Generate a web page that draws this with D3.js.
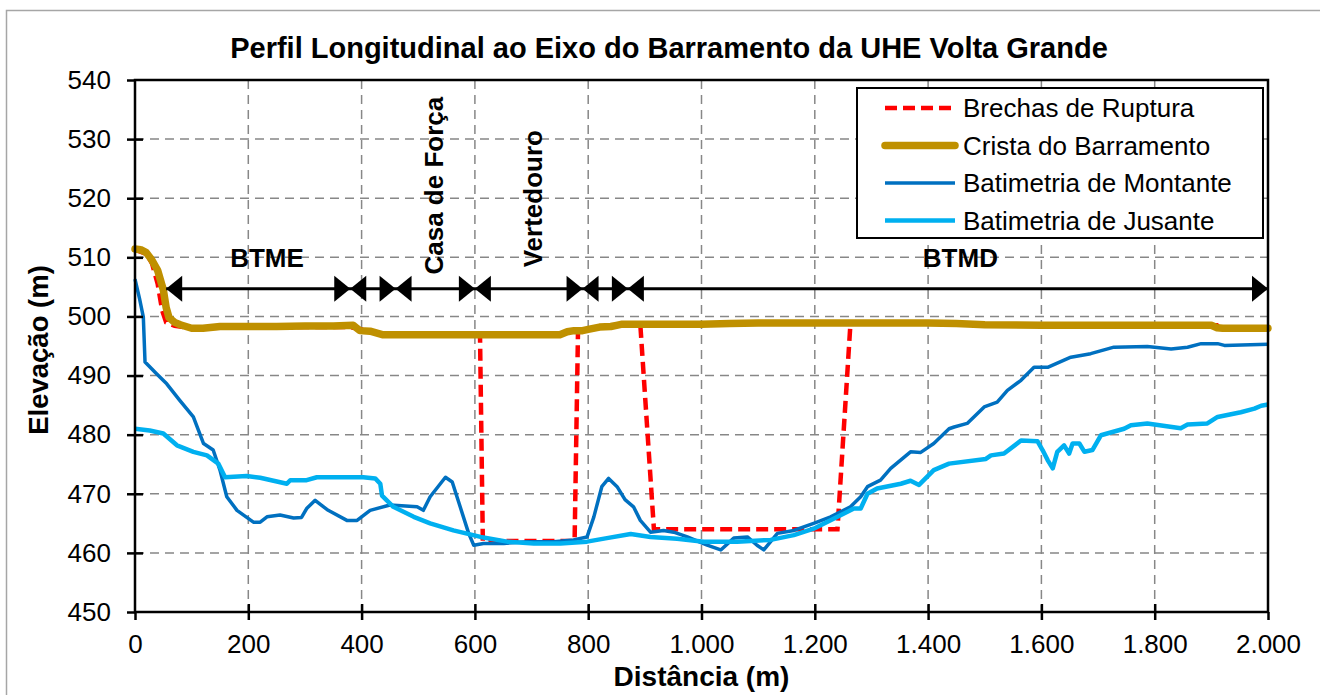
<!DOCTYPE html>
<html><head><meta charset="utf-8">
<script src="https://cdn.jsdelivr.net/npm/d3@7"></script>
<style>body{margin:0;background:#fff} text{font-family:"Liberation Sans",Arial,sans-serif}</style>
</head><body><svg id="c" width="1320" height="695"></svg>
<script>
// ---- data ----
const xTicks = [0,200,400,600,800,1000,1200,1400,1600,1800,2000];
const yTicks = [450,460,470,480,490,500,510,520,530,540];

const brechaDist = [0,20,30,40,48,55,70,100,200,380,440,609,614,776,782,800,850,892,916,1240,1263,1400,1500,1910,1915,2000];
const brechaElev = [511.3,510.6,509,505.5,501,499,498.4,498,498.2,498.2,497,497,462.0,462.0,497.5,497.8,498.5,498.6,464,464,498.9,498.9,498.5,498.5,498,498];

const cristaDist = [0,10,20,30,40,50,55,60,70,80,100,120,150,200,250,300,350,385,397,415,438,450,600,700,750,763,775,790,800,820,840,850,860,900,1000,1050,1100,1200,1300,1400,1450,1500,1600,1700,1800,1900,1910,1920,2000];
const cristaElev = [511.4,511.3,510.8,509.5,507.8,504.5,501.5,499.8,499,498.6,498,498,498.3,498.3,498.3,498.4,498.4,498.5,497.6,497.5,496.9,496.9,496.9,496.9,496.9,497.4,497.6,497.6,497.8,498.2,498.3,498.5,498.7,498.7,498.7,498.8,498.9,498.9,498.9,498.9,498.8,498.6,498.5,498.5,498.5,498.5,498.1,498,498];

const montanteDist = [0,8,14.7,17.7,38,56,79,103,121,138,150,162,180,209,221,233,256,280,294,303,318,330,341,374,392,415,450,498,509,521,539,548,560,574,589,598,615,651,692,739,774,798,810,824,836,851,865,880,892,910,933,951,975,1010,1034,1057,1081,1098,1110,1134,1163,1198,1228,1263,1281,1293,1316,1334,1369,1387,1410,1437,1446,1469,1499,1522,1540,1564,1587,1611,1652,1687,1728,1787,1829,1858,1882,1911,1923,2000];
const montanteElev = [506.3,503,499.9,492.3,490.3,488.6,485.8,483,478.5,477.4,474,469.5,467.2,465.2,465.2,466.1,466.4,465.9,466,467.5,468.9,468,467.2,465.5,465.5,467.2,468.1,467.8,467.2,469.5,471.7,472.8,472,467.8,463.3,461.3,461.6,461.6,461.9,461.9,462.2,462.7,466.1,471.2,472.6,471.2,469,467.8,465.5,463.5,463.8,463.5,462.7,461.3,460.5,462.5,462.7,461.3,460.5,463.3,463.8,465,466.1,467.8,469.5,471.2,472.3,474.3,477.1,477,478.5,481,481.3,481.9,484.7,485.5,487.5,489.2,491.4,491.4,493.1,493.7,494.8,494.9,494.5,494.8,495.4,495.4,495.1,495.3];

const jusanteDist = [0,26,50,74,103,127,147,159,197,221,268,274,303,321,345,403,424,433,436,456,492,521,562,610,657,704,751,798,833,875,910,957,1004,1063,1122,1163,1198,1234,1269,1281,1293,1310,1352,1369,1384,1410,1437,1502,1511,1534,1564,1593,1602,1611,1620,1628,1640,1649,1655,1667,1676,1690,1705,1746,1758,1787,1846,1858,1893,1911,1952,1976,1988,2000];
const jusanteElev = [481,480.7,480.2,478.2,477.1,476.5,475.1,472.8,473,472.7,471.7,472.3,472.3,472.8,472.8,472.8,472.6,471.7,469.7,467.8,466.1,465,463.8,462.7,461.9,461.6,461.6,461.9,462.5,463.2,462.7,462.4,461.9,461.9,462.2,463,464.1,465.8,467.5,467.5,470,470.9,471.7,472.2,471.5,474,475.1,475.9,476.5,476.8,479,478.9,477.4,475.7,474.3,477.1,478.2,476.8,478.5,478.5,477.1,477.4,479.9,481,481.6,481.9,481.1,481.7,481.9,483,483.8,484.4,484.9,485.1];

const trechoLimites = [55,380,460,600,790,870,2000];
const trechoNivel = 504.7;
const rotulosH = [{t:"BTME", x:233}, {t:"BTMD", x:1457}];
const rotulosV = [{t:"Casa de Força", x:527, off:103}, {t:"Vertedouro", x:702.5, off:90}];

const seriesNames = ["Brechas de Ruptura","Crista do Barramento","Batimetria de Montante","Batimetria de Jusante"];

// ---- chart ----
const svg = d3.select("#c");
const L=135, R=1268, T=80, B=612;
const x = d3.scaleLinear([0,2000],[L,R]);
const y = d3.scaleLinear([450,540],[B,T]);
const loc = d3.formatLocale({decimal:",", thousands:".", grouping:[3], currency:["R$",""]});
const fmt = loc.format(",");

// outer border
svg.append("path").attr("d","M6.5,700 V10.5 H1330").attr("fill","none").attr("stroke","#a6a6a6").attr("stroke-width",1.5);

// grid
const g = svg.append("g");
g.selectAll(".gx").data(xTicks.slice(1,-1)).join("line")
  .attr("x1",d=>x(d)).attr("x2",d=>x(d)).attr("y1",T).attr("y2",B)
  .attr("stroke","#878787").attr("stroke-width",1.5).attr("stroke-dasharray","9,6");
g.selectAll(".gy").data(yTicks.slice(1,-1)).join("line")
  .attr("y1",d=>y(d)).attr("y2",d=>y(d)).attr("x1",L).attr("x2",R)
  .attr("stroke","#878787").attr("stroke-width",1.5).attr("stroke-dasharray","9,6");

// series
const mk = (dx,dy)=>dx.map((d,i)=>[d,dy[i]]);
const line = d3.line().x(d=>x(d[0])).y(d=>y(d[1]));
svg.append("path").datum(mk(brechaDist,brechaElev)).attr("d",line).attr("fill","none")
  .attr("stroke","#ff0000").attr("stroke-width",4.5).attr("stroke-dasharray","12,6");
svg.append("path").datum(mk(cristaDist,cristaElev)).attr("d",line).attr("fill","none")
  .attr("stroke","#bf9000").attr("stroke-width",7.5).attr("stroke-linejoin","round").attr("stroke-linecap","round");
svg.append("path").datum(mk(montanteDist,montanteElev)).attr("d",line).attr("fill","none")
  .attr("stroke","#0070c0").attr("stroke-width",3.5).attr("stroke-linejoin","round");
svg.append("path").datum(mk(jusanteDist,jusanteElev)).attr("d",line).attr("fill","none")
  .attr("stroke","#00b0f0").attr("stroke-width",4.5).attr("stroke-linejoin","round");

// plot frame
svg.append("rect").attr("x",L).attr("y",T).attr("width",R-L).attr("height",B-T)
  .attr("fill","none").attr("stroke","#000").attr("stroke-width",2.5);

// axes
svg.append("g").attr("transform",`translate(0,${B})`)
  .call(d3.axisBottom(x).tickValues(xTicks).tickSize(8).tickPadding(15).tickFormat(fmt));
svg.append("g").attr("transform",`translate(0,${B})`)
  .call(d3.axisBottom(x).tickValues(xTicks.slice(1,-1)).tickSize(-8).tickFormat(""));
svg.append("g").attr("transform",`translate(${L},0)`)
  .call(d3.axisLeft(y).tickValues(yTicks).tickSize(8).tickPadding(16));
svg.append("g").attr("transform",`translate(${L},0)`)
  .call(d3.axisLeft(y).tickValues(yTicks.slice(1,-1)).tickSize(-8).tickFormat(""));
svg.selectAll(".domain").remove();
svg.selectAll(".tick line").attr("stroke","#000").attr("stroke-width",2.5);
svg.selectAll(".tick text").attr("font-size",26).attr("fill","#000").attr("font-family","Liberation Sans, Arial, sans-serif");

// section arrows
const ya = y(trechoNivel);
svg.append("line").attr("x1",x(trechoLimites[0])).attr("x2",x(trechoLimites[trechoLimites.length-1]))
  .attr("y1",ya).attr("y2",ya).attr("stroke","#000").attr("stroke-width",3);
const aw=16, ah=13;
trechoLimites.forEach((b,i)=>{
  const xb = x(b);
  if(i>0) svg.append("path").attr("d",`M${xb},${ya} L${xb-aw},${ya-ah} L${xb-aw},${ya+ah} Z`).attr("fill","#000");
  if(i<trechoLimites.length-1) svg.append("path").attr("d",`M${xb},${ya} L${xb+aw},${ya-ah} L${xb+aw},${ya+ah} Z`).attr("fill","#000");
});
svg.selectAll(".rh").data(rotulosH).join("text")
  .attr("x",d=>x(d.x)).attr("y",ya-22).attr("text-anchor","middle")
  .attr("font-size",26).attr("font-weight","bold").text(d=>d.t);
svg.selectAll(".rv").data(rotulosV).join("text")
  .attr("transform",d=>`translate(${x(d.x)},${ya-d.off}) rotate(-90)`)
  .attr("text-anchor","middle").attr("dy","0.35em")
  .attr("font-size",26).attr("font-weight","bold").text(d=>d.t);

// titles
svg.append("text").attr("x",669).attr("y",58).attr("text-anchor","middle")
  .attr("font-size",29).attr("font-weight","bold").text("Perfil Longitudinal ao Eixo do Barramento da UHE Volta Grande");
svg.append("text").attr("x",(L+R)/2).attr("y",686).attr("text-anchor","middle")
  .attr("font-size",28).attr("font-weight","bold").text("Distância (m)");
svg.append("text").attr("transform",`translate(48,${(T+B)/2 + 4}) rotate(-90)`).attr("text-anchor","middle")
  .attr("font-size",27.5).attr("font-weight","bold").text("Elevação (m)");

// legend
const lg = svg.append("g");
lg.append("rect").attr("x",857).attr("y",88).attr("width",406).attr("height",150)
  .attr("fill","#fff").attr("stroke","#000").attr("stroke-width",2);
const lstyle = [
  {c:"#ff0000", w:4.5, dash:"12,6"},
  {c:"#bf9000", w:7.5, dash:null},
  {c:"#0070c0", w:3.5, dash:null},
  {c:"#00b0f0", w:4.5, dash:null}
];
seriesNames.forEach((n,i)=>{
  const yy = 108 + i*37.5;
  const ln = lg.append("line").attr("x1",885).attr("x2",955).attr("y1",yy).attr("y2",yy)
    .attr("stroke",lstyle[i].c).attr("stroke-width",lstyle[i].w).attr("stroke-linecap", i===1?"round":"butt");
  if(lstyle[i].dash) ln.attr("stroke-dasharray",lstyle[i].dash);
  lg.append("text").attr("x",963).attr("y",yy+9).attr("font-size",26).text(n);
});
</script></body></html>
